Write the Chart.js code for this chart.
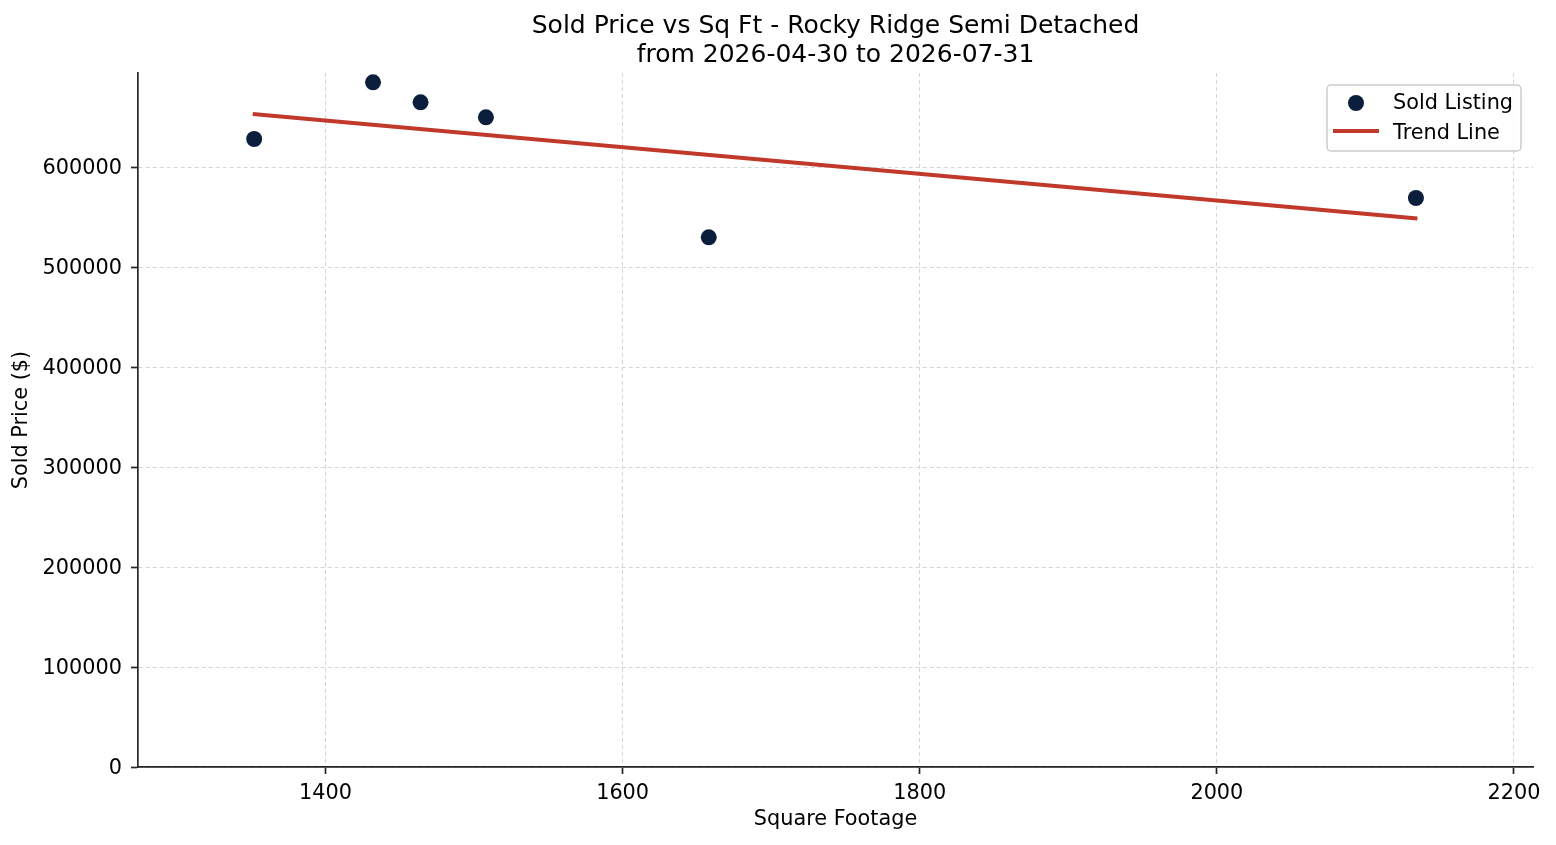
<!DOCTYPE html>
<html>
<head>
<meta charset="utf-8">
<title>Sold Price vs Sq Ft</title>
<script src="https://cdn.jsdelivr.net/npm/chart.js@4.4.1/dist/chart.umd.min.js"></script>
<style>
    html, body { margin: 0; padding: 0; background: #fff; }
    #wrap { width: 1556px; height: 845px; }
</style>
</head>
<body>
<div id="wrap"><canvas id="chart" width="1556" height="845"></canvas></div>
<script>
// data
const sqft = [1352, 1432, 1464, 1508, 1658, 2134];
const soldPrice = [628000, 684700, 664700, 649700, 529700, 569000];
const trendSqft = [1351, 2135];
const trendPrice = [653000, 548500];
const xTicks = [1400, 1600, 1800, 2000, 2200];
const yTicks = [0, 100000, 200000, 300000, 400000, 500000, 600000];
const titleLines = ['Sold Price vs Sq Ft - Rocky Ridge Semi Detached', 'from 2026-04-30 to 2026-07-31'];

const FONT = '"DejaVu Sans", Verdana, sans-serif';
const POINT_COLOR = '#0b1f3d';
const TREND_COLOR = '#c0392b';
const TEXT_SIZE = 20.8;

// title centred over the plot area + boxed legend in the top right corner
const titleAndLegend = {
    id: 'titleAndLegend',
    afterDraw(chart) {
        const ctx = chart.ctx;
        const area = chart.chartArea;
        const cx = (area.left + area.right) / 2;
        ctx.save();
        ctx.fillStyle = '#000';
        ctx.font = '25px ' + FONT;
        ctx.textAlign = 'center';
        ctx.textBaseline = 'middle';
        ctx.fillText(titleLines[0], cx, 26);
        ctx.fillText(titleLines[1], cx, 55);

        //Legend
        const bw = 194, bh = 66;
        const bx = area.right - 206, by = area.top + 12;
        ctx.beginPath();
        ctx.roundRect(bx, by, bw, bh, 4);
        ctx.fillStyle = 'rgba(255,255,255,0.8)';
        ctx.fill();
        ctx.strokeStyle = '#cccccc';
        ctx.lineWidth = 1.5;
        ctx.stroke();

        const ds = chart.data.datasets;
        ctx.fillStyle = POINT_COLOR;
        ctx.beginPath();
        ctx.arc(bx + 29, by + 18, 8, 0, Math.PI * 2);
        ctx.fill();

        ctx.strokeStyle = TREND_COLOR;
        ctx.lineWidth = 4;
        ctx.beginPath();
        ctx.moveTo(bx + 6, by + 46);
        ctx.lineTo(bx + 52, by + 46);
        ctx.stroke();

        ctx.fillStyle = '#000';
        ctx.font = TEXT_SIZE + 'px ' + FONT;
        ctx.textAlign = 'left';
        ctx.fillText(ds[0].label, bx + 66, by + 19);
        ctx.fillText(ds[1].label, bx + 66, by + 49);
        ctx.restore();
    }
};

const axisCommon = {
    type: 'linear',
    border: { display: true, color: '#262626', width: 1.7, dash: [4, 3] },
    grid: {
        color: '#d6d6d6',
        lineWidth: 1,
        drawTicks: true,
        tickLength: 7,
        tickColor: '#262626',
        tickWidth: 1.7,
        tickBorderDash: []
    }
};

const config = {
    data: {
        datasets: [{
            type: 'scatter',
            label: 'Sold Listing',
            data: sqft.map((x, i) => ({ x: x, y: soldPrice[i] })),
            backgroundColor: POINT_COLOR,
            borderColor: POINT_COLOR,
            pointRadius: 8,
            pointHoverRadius: 8,
            borderWidth: 0,
            order: 1
        }, {
            type: 'line',
            label: 'Trend Line',
            data: trendSqft.map((x, i) => ({ x: x, y: trendPrice[i] })),
            borderColor: TREND_COLOR,
            borderWidth: 4,
            pointRadius: 0,
            fill: false,
            order: 2
        }]
    },
    options: {
        responsive: false,
        animation: false,
        devicePixelRatio: 1,
        layout: { padding: { top: 73, right: 23, left: 0, bottom: 0 } },
        plugins: {
            legend: { display: false },
            title: { display: false },
            tooltip: { enabled: false }
        },
        scales: {
            x: {
                ...axisCommon,
                position: 'bottom',
                min: 1273.8,
                max: 2212.8,
                afterBuildTicks: (scale) => { scale.ticks = xTicks.map(v => ({ value: v })); },
                afterFit: (scale) => { scale.height = 78; },
                ticks: {
                    color: '#000',
                    padding: 7,
                    maxRotation: 0,
                    font: { family: FONT, size: TEXT_SIZE },
                    callback: (v) => String(v)
                },
                title: {
                    display: true,
                    text: 'Square Footage',
                    color: '#000',
                    font: { family: FONT, size: TEXT_SIZE },
                    padding: { top: 0, bottom: 13 }
                }
            },
            y: {
                ...axisCommon,
                position: 'left',
                min: 0,
                max: 694000,
                afterBuildTicks: (scale) => { scale.ticks = yTicks.map(v => ({ value: v })); },
                afterFit: (scale) => { scale.width = 138; },
                ticks: {
                    color: '#000',
                    padding: 9,
                    labelOffset: 2,
                    font: { family: FONT, size: TEXT_SIZE },
                    callback: (v) => String(v)
                },
                title: {
                    display: true,
                    text: 'Sold Price ($)',
                    color: '#000',
                    font: { family: FONT, size: TEXT_SIZE },
                    padding: { top: 9, bottom: 0 }
                }
            }
        }
    },
    plugins: [titleAndLegend]
};

window.onload = () => {
    new Chart(document.getElementById('chart'), config);
};
</script>
</body>
</html>
